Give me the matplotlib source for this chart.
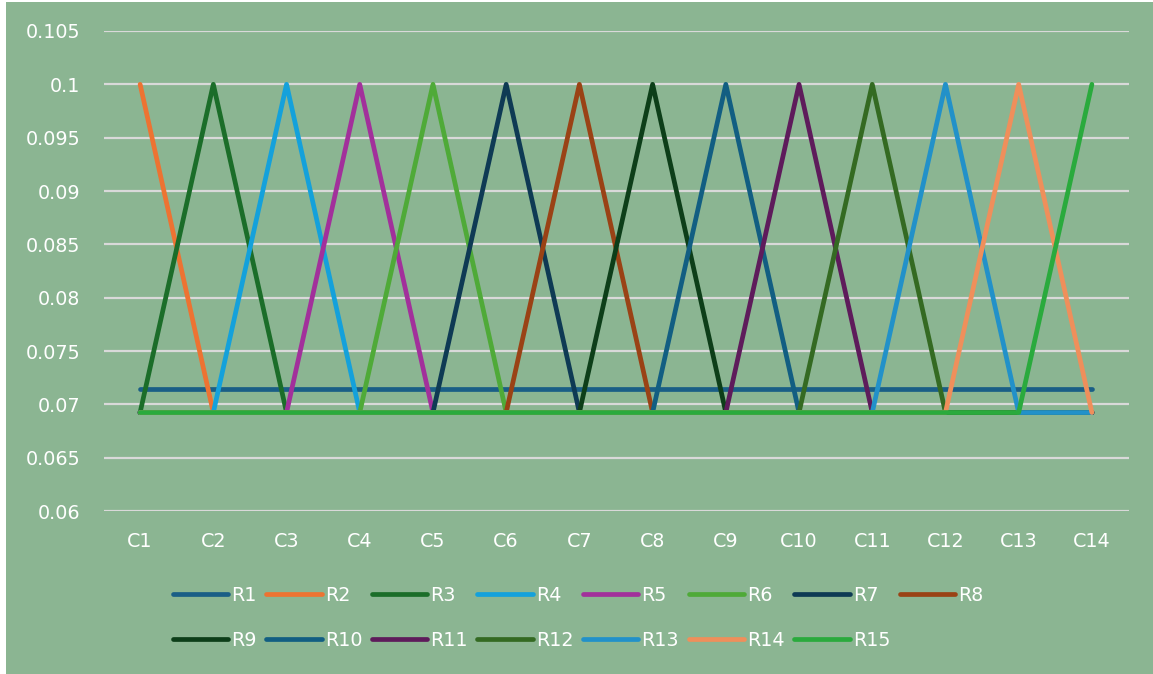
import matplotlib
matplotlib.use("Agg")
import matplotlib.pyplot as plt
from matplotlib.patches import Rectangle
from matplotlib.lines import Line2D

categories = [f"C{i}" for i in range(1, 15)]
series_names = [f"R{i}" for i in range(1, 16)]

base = 0.069231
peak = 0.1
flat = 0.071429

# R1 is flat; R2..R15 each peak at one category
series_values = {"R1": [flat] * 14}
for k in range(2, 16):
    vals = [base] * 14
    vals[k - 2] = peak
    series_values[f"R{k}"] = vals

colors = {
    "R1": "#1A5E86", "R2": "#ED7332", "R3": "#1B6D29", "R4": "#14A1DB",
    "R5": "#A2309B", "R6": "#4FAA38", "R7": "#0E3A54", "R8": "#9A4215",
    "R9": "#0D3E19", "R10": "#125E82", "R11": "#5E1B5B", "R12": "#346A22",
    "R13": "#2291C9", "R14": "#EF8F5B", "R15": "#2AAA3D",
}

y_ticks = [0.06, 0.065, 0.07, 0.075, 0.08, 0.085, 0.09, 0.095, 0.1, 0.105]
y_labels = ["0.06", "0.065", "0.07", "0.075", "0.08", "0.085", "0.09", "0.095", "0.1", "0.105"]

bg = "#8BB592"
W, H = 1153, 674
fig = plt.figure(figsize=(W / 100, H / 100), dpi=100, facecolor="white")
fig.patches.append(Rectangle((6 / W, 0), 1 - 6 / W, 1 - 2 / H, transform=fig.transFigure,
                             facecolor=bg, edgecolor="none", zorder=-10))

ax = fig.add_axes([103.5 / W, 1 - 511 / H, (1128.5 - 103.5) / W, (511 - 31) / H])
ax.set_facecolor("none")

x = list(range(len(categories)))
for name in series_names:
    ax.plot(x, series_values[name], color=colors[name], lw=3.4,
            solid_capstyle="round", solid_joinstyle="round", label=name, zorder=3)

ax.set_xlim(-0.5, len(categories) - 0.5)
ax.set_ylim(0.06, 0.105)
ax.set_yticks(y_ticks)
ax.set_yticklabels(y_labels)
ax.set_xticks(x)
ax.set_xticklabels(categories)
ax.grid(axis="y", color="#D9D9D9", lw=1.6, zorder=1)
ax.set_axisbelow(True)
for s in ax.spines.values():
    s.set_visible(False)
ax.tick_params(axis="both", length=0, colors="white", labelsize=13.8)
ax.tick_params(axis="y", pad=17)
ax.tick_params(axis="x", pad=15)

# legend laid out row-major over 8 columns
order = []
for c in range(7):
    order += [series_names[c], series_names[c + 8]]
order.append(series_names[7])
handles = [Line2D([0], [0], color=colors[n], lw=3.4, solid_capstyle="round") for n in order]
leg = fig.legend(handles, order, loc="center", ncol=8,
                 bbox_to_anchor=(578 / W, 1 - 618 / H),
                 frameon=False, fontsize=13.8, handlelength=2.9, handletextpad=0.15,
                 columnspacing=0.5, labelspacing=1.35, labelcolor="white")

fig.savefig("out.png", dpi=100, facecolor=fig.get_facecolor())
